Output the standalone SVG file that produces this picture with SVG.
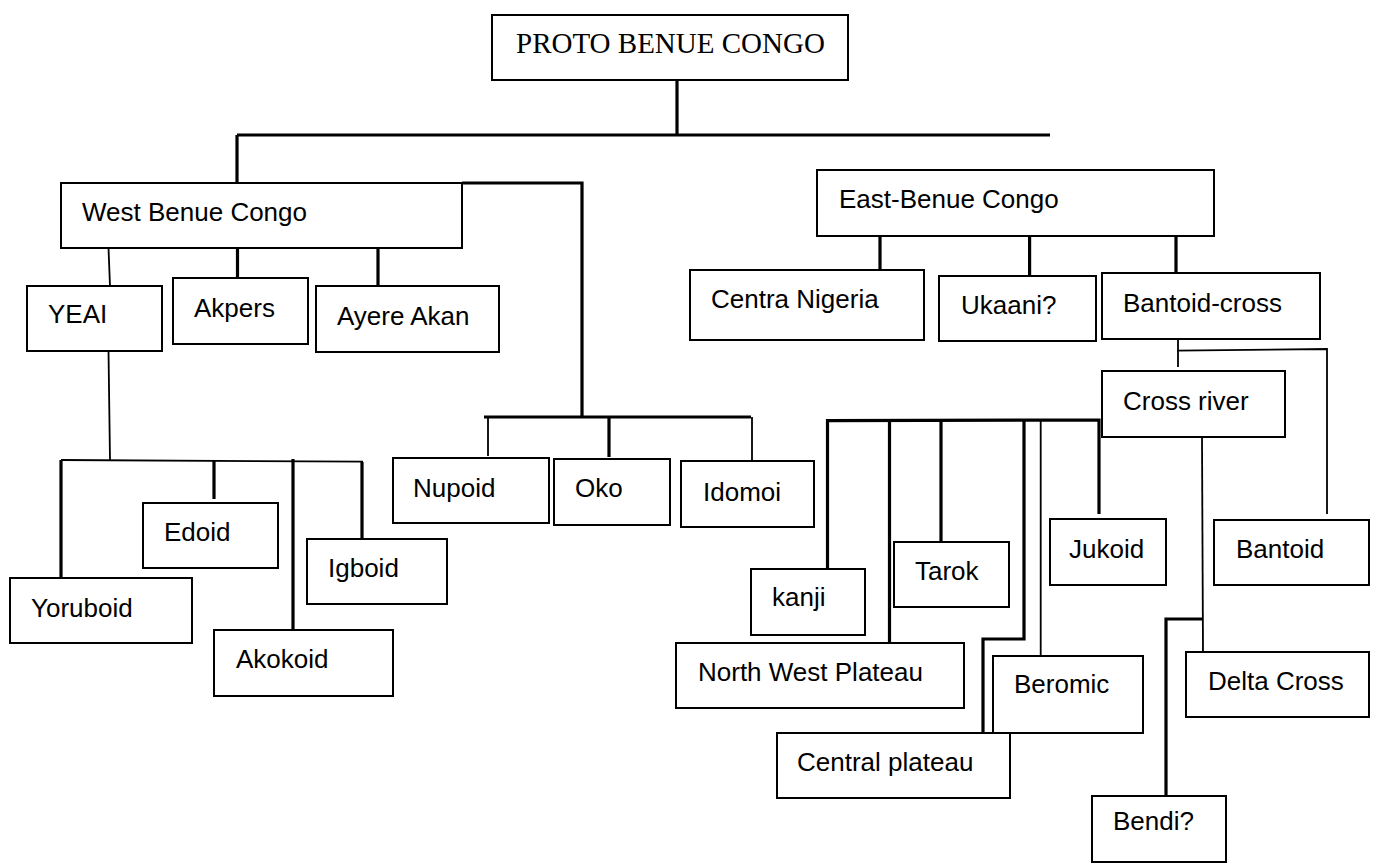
<svg xmlns="http://www.w3.org/2000/svg" width="1375" height="866" viewBox="0 0 1375 866">
<style>
.box{fill:#fff;stroke:#000;stroke-width:2}
.t{font-family:"Liberation Sans",Arial,sans-serif;font-size:26px;fill:#000}
.ts{font-family:"Liberation Serif","Times New Roman",serif;font-size:29px;fill:#000}
.k{stroke:#000;stroke-width:3.2;fill:none}
.n{stroke:#000;stroke-width:1.8;fill:none}
</style>
<rect width="1375" height="866" fill="#fff"/>
<g id="connectors">
<path class="k" d="M677 80V135M237 135H1050M237 135V183"/>
<path class="k" d="M462 183H582V417M484 417H751"/>
<path class="n" d="M488 417V456M752 417V461"/>
<path class="k" d="M609 417V457"/>
<path class="n" d="M108.5 248L110 286"/>
<path class="k" d="M237.5 248V278M378 248V286"/>
<path class="n" d="M108.5 351L110 460"/>
<path class="n" d="M61 460L363 461.7"/>
<path class="k" d="M61 460V578M214 461V499M293 459V630M362 462V539"/>
<path class="k" d="M880 236V270M1029.6 236V275.7M1176 236V273"/>
<path class="n" d="M1178 339V367M1177 350.7L1327 349V514"/>
<path class="n" d="M1202 437L1203 652"/>
<path class="k" d="M1166 796V619H1203"/>
<path class="k" d="M827.5 569V420.7L1099 420V514"/>
<path class="k" d="M889.5 421V643M941 420V542M1024 420V639H983V733"/>
<path class="n" d="M1040.7 420V656"/>
</g>
<g id="proto"><rect class="box" x="492" y="15" width="356" height="65"/><text class="ts" x="516" y="53">PROTO BENUE CONGO</text></g>
<g id="west"><rect class="box" x="61" y="183" width="401" height="65"/><text class="t" x="82" y="221">West Benue Congo</text></g>
<g id="yeai"><rect class="box" x="27" y="286" width="135" height="65"/><text class="t" x="48" y="323">YEAI</text></g>
<g id="akpers"><rect class="box" x="173" y="278" width="135" height="66"/><text class="t" x="194" y="317">Akpers</text></g>
<g id="ayere"><rect class="box" x="316" y="286" width="183" height="66"/><text class="t" x="337" y="325">Ayere Akan</text></g>
<g id="nupoid"><rect class="box" x="393" y="458" width="156" height="65"/><text class="t" x="413" y="497">Nupoid</text></g>
<g id="oko"><rect class="box" x="554" y="459" width="116" height="66"/><text class="t" x="575" y="497">Oko</text></g>
<g id="idomoi"><rect class="box" x="681" y="461" width="133" height="66"/><text class="t" x="703" y="501">Idomoi</text></g>
<g id="yoruboid"><rect class="box" x="10" y="578" width="182" height="65"/><text class="t" x="31" y="617">Yoruboid</text></g>
<g id="edoid"><rect class="box" x="143" y="503" width="135" height="65"/><text class="t" x="164" y="541">Edoid</text></g>
<g id="akokoid"><rect class="box" x="214" y="630" width="179" height="66"/><text class="t" x="236" y="668">Akokoid</text></g>
<g id="igboid"><rect class="box" x="307" y="539" width="140" height="65"/><text class="t" x="328" y="577">Igboid</text></g>
<g id="east"><rect class="box" x="817" y="170" width="397" height="66"/><text class="t" x="839" y="208">East-Benue Congo</text></g>
<g id="centra"><rect class="box" x="690" y="270" width="234" height="70"/><text class="t" x="711" y="308">Centra Nigeria</text></g>
<g id="ukaani"><rect class="box" x="939" y="276" width="157" height="65"/><text class="t" x="961" y="314">Ukaani?</text></g>
<g id="bantoidcross"><rect class="box" x="1102" y="273" width="218" height="66"/><text class="t" x="1123" y="312">Bantoid-cross</text></g>
<g id="crossriver"><rect class="box" x="1102" y="371" width="183" height="66"/><text class="t" x="1123" y="410">Cross river</text></g>
<g id="kanji"><rect class="box" x="751" y="569" width="114" height="66"/><text class="t" x="772" y="606">kanji</text></g>
<g id="nwplateau"><rect class="box" x="676" y="643" width="288" height="65"/><text class="t" x="698" y="681">North West Plateau</text></g>
<g id="tarok"><rect class="box" x="894" y="542" width="115" height="65"/><text class="t" x="915" y="580">Tarok</text></g>
<g id="beromic"><rect class="box" x="993" y="656" width="150" height="77"/><text class="t" x="1014" y="693">Beromic</text></g>
<g id="centralplateau"><rect class="box" x="777" y="733" width="233" height="65"/><text class="t" x="797" y="771">Central plateau</text></g>
<g id="jukoid"><rect class="box" x="1050" y="519" width="116" height="66"/><text class="t" x="1069" y="558">Jukoid</text></g>
<g id="bantoid"><rect class="box" x="1214" y="520" width="155" height="65"/><text class="t" x="1236" y="558">Bantoid</text></g>
<g id="deltacross"><rect class="box" x="1186" y="652" width="183" height="65"/><text class="t" x="1208" y="690">Delta Cross</text></g>
<g id="bendi"><rect class="box" x="1092" y="796" width="134" height="66"/><text class="t" x="1113" y="830">Bendi?</text></g>
</svg>
